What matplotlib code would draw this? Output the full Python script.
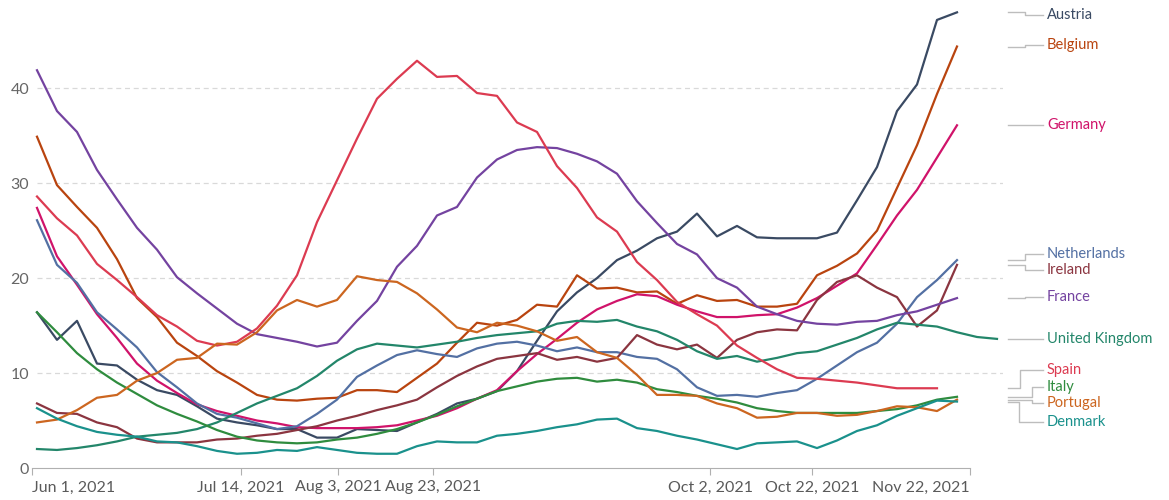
import matplotlib

matplotlib.use("Agg")

import matplotlib.pyplot as plt
import numpy as np

plt.rcParams["font.family"] = ["Lato", "DejaVu Sans"]

# x axis: sample index (one sample every ~4 days); ticks sit between samples
tick_labels = ["Jun 1, 2021", "Jul 14, 2021", "Aug 3, 2021", "Aug 23, 2021",
               "Oct 2, 2021", "Oct 22, 2021", "Nov 22, 2021"]
tick_pos = [-0.25, 10.2, 15.05, 19.8, 33.65, 38.75, 46.65]

austria = [16.4, 13.5, 15.5, 11.0, 10.8, 9.3, 8.2, 7.7, 6.5, 5.2, 4.8, 4.5, 4.1, 4.1, 3.2,
           3.2, 4.1, 4.0, 3.9, 4.8, 5.7, 6.8, 7.3, 8.1, 10.2, 13.4, 16.5, 18.5, 20.0, 21.9,
           22.9, 24.2, 24.9, 26.8, 24.4, 25.5, 24.3, 24.2, 24.2, 24.2, 24.8, 28.2, 31.7, 37.6,
           40.4, 47.2, 48.0]
belgium = [34.9, 29.8, 27.5, 25.3, 22.0, 17.9, 15.9, 13.2, 11.8, 10.2, 9.0, 7.7, 7.2, 7.1, 7.3,
           7.4, 8.2, 8.2, 8.0, 9.5, 11.0, 13.2, 15.3, 15.0, 15.6, 17.2, 17.0, 20.3, 18.9, 19.0,
           18.5, 18.6, 17.3, 18.2, 17.6, 17.7, 17.0, 17.0, 17.3, 20.3, 21.3, 22.6, 25.0, 29.5,
           34.0, 39.4, 44.4]
germany = [27.4, 22.3, 19.3, 16.2, 13.7, 11.0, 9.2, 7.9, 6.7, 6.0, 5.5, 5.0, 4.7, 4.3, 4.2,
           4.2, 4.2, 4.3, 4.5, 5.0, 5.5, 6.3, 7.3, 8.2, 10.2, 12.0, 13.6, 15.3, 16.7, 17.6,
           18.3, 18.1, 17.2, 16.5, 15.9, 15.9, 16.1, 16.2, 16.9, 17.9, 19.2, 20.5, 23.5, 26.6,
           29.3, 32.7, 36.1]
netherlands = [26.1, 21.4, 19.5, 16.4, 14.6, 12.7, 10.1, 8.5, 6.8, 5.7, 5.3, 4.7, 4.1, 4.4, 5.7,
               7.2, 9.6, 10.8, 11.9, 12.4, 12.0, 11.7, 12.6, 13.1, 13.3, 12.9, 12.3, 12.7, 12.2,
               12.2, 11.7, 11.5, 10.4, 8.5, 7.6, 7.7, 7.5, 7.9, 8.2, 9.4, 10.8, 12.2, 13.2, 15.2,
               18.0, 19.8, 21.9]
ireland = [6.8, 5.8, 5.7, 4.8, 4.3, 3.1, 2.7, 2.7, 2.7, 3.0, 3.1, 3.4, 3.6, 4.0, 4.4,
           5.0, 5.5, 6.1, 6.6, 7.2, 8.5, 9.7, 10.7, 11.5, 11.8, 12.1, 11.4, 11.7, 11.2, 11.6,
           14.0, 13.0, 12.5, 13.0, 11.6, 13.5, 14.3, 14.6, 14.5, 17.7, 19.6, 20.3, 19.0, 18.0,
           14.9, 16.6, 21.4]
france = [41.9, 37.6, 35.4, 31.4, 28.3, 25.3, 23.0, 20.1, 18.4, 16.8, 15.2, 14.1, 13.7, 13.3, 12.8,
          13.2, 15.5, 17.6, 21.2, 23.4, 26.6, 27.5, 30.6, 32.5, 33.5, 33.8, 33.7, 33.1, 32.3, 31.0,
          28.1, 25.8, 23.6, 22.5, 20.0, 19.0, 17.0, 16.2, 15.5, 15.2, 15.1, 15.4, 15.5, 16.1,
          16.5, 17.2, 17.9]
united_kingdom = [2.0, 1.9, 2.1, 2.4, 2.8, 3.3, 3.5, 3.7, 4.1, 4.8, 5.8, 6.8, 7.6, 8.4, 9.7,
                  11.3, 12.5, 13.1, 12.9, 12.7, 13.0, 13.3, 13.7, 14.0, 14.2, 14.4, 15.2, 15.5,
                  15.4, 15.6, 14.9, 14.4, 13.5, 12.3, 11.5, 11.8, 11.2, 11.6, 12.1, 12.3, 13.0,
                  13.7, 14.6, 15.3, 15.1, 14.9, 14.3, 13.8, 13.6]
spain = [28.6, 26.3, 24.5, 21.5, 19.8, 18.0, 16.1, 14.9, 13.4, 12.9, 13.3, 14.7, 17.1, 20.3, 25.9,
         30.3, 34.7, 38.9, 41.0, 42.9, 41.2, 41.3, 39.5, 39.2, 36.4, 35.4, 31.8, 29.5, 26.4, 24.9,
         21.7, 19.8, 17.5, 16.2, 15.0, 12.9, 11.6, 10.4, 9.5, 9.4, 9.2, 9.0, 8.7, 8.4, 8.4, 8.4]
italy = [16.4, 14.3, 12.1, 10.4, 9.0, 7.8, 6.6, 5.7, 4.9, 4.0, 3.3, 2.9, 2.7, 2.6, 2.7,
         3.0, 3.2, 3.6, 4.1, 4.8, 5.6, 6.5, 7.3, 8.1, 8.6, 9.1, 9.4, 9.5, 9.1, 9.3,
         9.0, 8.3, 8.0, 7.6, 7.3, 6.9, 6.3, 6.0, 5.8, 5.8, 5.8, 5.8, 6.0, 6.2, 6.6, 7.2, 7.5]
portugal = [4.8, 5.1, 6.1, 7.4, 7.7, 9.2, 10.0, 11.4, 11.6, 13.1, 13.0, 14.3, 16.6, 17.7, 17.0,
            17.7, 20.2, 19.8, 19.6, 18.4, 16.7, 14.8, 14.3, 15.3, 15.0, 14.4, 13.4, 13.8, 12.2,
            11.6, 9.8, 7.7, 7.7, 7.6, 6.8, 6.3, 5.3, 5.4, 5.8, 5.8, 5.5, 5.6, 6.0, 6.5, 6.4, 6.0, 7.2]
denmark = [6.3, 5.2, 4.4, 3.8, 3.5, 3.3, 2.8, 2.7, 2.3, 1.8, 1.5, 1.6, 1.9, 1.8, 2.2,
           1.9, 1.6, 1.5, 1.5, 2.3, 2.8, 2.7, 2.7, 3.4, 3.6, 3.9, 4.3, 4.6, 5.1, 5.2,
           4.2, 3.9, 3.4, 3.0, 2.5, 2.0, 2.6, 2.7, 2.8, 2.1, 2.9, 3.9, 4.5, 5.5, 6.3, 7.1, 7.0]

series = {
    "Austria": austria,
    "Belgium": belgium,
    "Germany": germany,
    "Netherlands": netherlands,
    "Ireland": ireland,
    "France": france,
    "United Kingdom": united_kingdom,
    "Spain": spain,
    "Italy": italy,
    "Portugal": portugal,
    "Denmark": denmark,
}

colors = {
    "Austria": "#3a4a63",
    "Belgium": "#b9440f",
    "Germany": "#d0136a",
    "Netherlands": "#5370a3",
    "Ireland": "#8b3540",
    "France": "#7443a0",
    "United Kingdom": "#23866a",
    "Spain": "#dc3b51",
    "Italy": "#2f8c3e",
    "Portugal": "#cc6620",
    "Denmark": "#1a918c",
}

# label y (data units) and x of the connector elbow (x units)
label_y = {
    "Austria": 47.7, "Belgium": 44.6, "Germany": 36.1, "Netherlands": 22.5,
    "Ireland": 20.9, "France": 18.0, "United Kingdom": 13.6, "Spain": 10.3,
    "Italy": 8.5, "Portugal": 6.8, "Denmark": 4.8,
}
elbow_x = {
    "Austria": 49.4, "Belgium": 49.4, "Germany": 49.4, "Netherlands": 49.4,
    "Ireland": 49.4, "France": 49.4, "United Kingdom": 49.4, "Spain": 49.15,
    "Italy": 49.75, "Portugal": 49.75, "Denmark": 49.1,
}
CONN_START, CONN_END, TEXT_X = 48.55, 50.3, 50.5

fig = plt.figure(figsize=(11.69, 5.0), dpi=100)
ax = fig.add_axes([32 / 1169, 32 / 500, (1003 - 32) / 1169, 468 / 500])

ax.set_xlim(-0.25, 48.3)
ax.set_ylim(0, 49.3)

# dashed gridlines
ax.hlines([10, 20, 30, 40], 0, 48.3, colors="#d9d9d9", linestyles=(0, (4, 3)), lw=0.9, zorder=0)

for name, values in series.items():
    x = np.arange(len(values))
    ax.plot(x, values, color=colors[name], lw=1.6, solid_joinstyle="round", zorder=2)

    y0 = values[-1]
    ly = label_y[name]
    ex = elbow_x[name]
    ax.plot([CONN_START, ex, ex, CONN_END], [y0, y0, ly, ly], color="#bdbdbd", lw=1.0,
            clip_on=False, zorder=1)
    ax.text(TEXT_X, ly, name, color=colors[name], fontsize=10.5, va="center", ha="left",
            clip_on=False)

for side in ("top", "right", "left"):
    ax.spines[side].set_visible(False)
ax.spines["bottom"].set_color("#b0b0b0")
ax.spines["bottom"].set_bounds(tick_pos[0], tick_pos[-1])

ax.set_xticks(tick_pos, tick_labels)
ax.tick_params(axis="x", direction="out", length=5, color="#b0b0b0", labelcolor="#5a5a5a",
               labelsize=11.5, pad=4)
xt = ax.get_xticklabels()
xt[0].set_ha("left")
xt[-1].set_ha("right")

ax.set_yticks([0, 10, 20, 30, 40])
ax.tick_params(axis="y", length=0, labelcolor="#666666", labelsize=11.5, pad=2)

fig.savefig("out.png", dpi=100)
